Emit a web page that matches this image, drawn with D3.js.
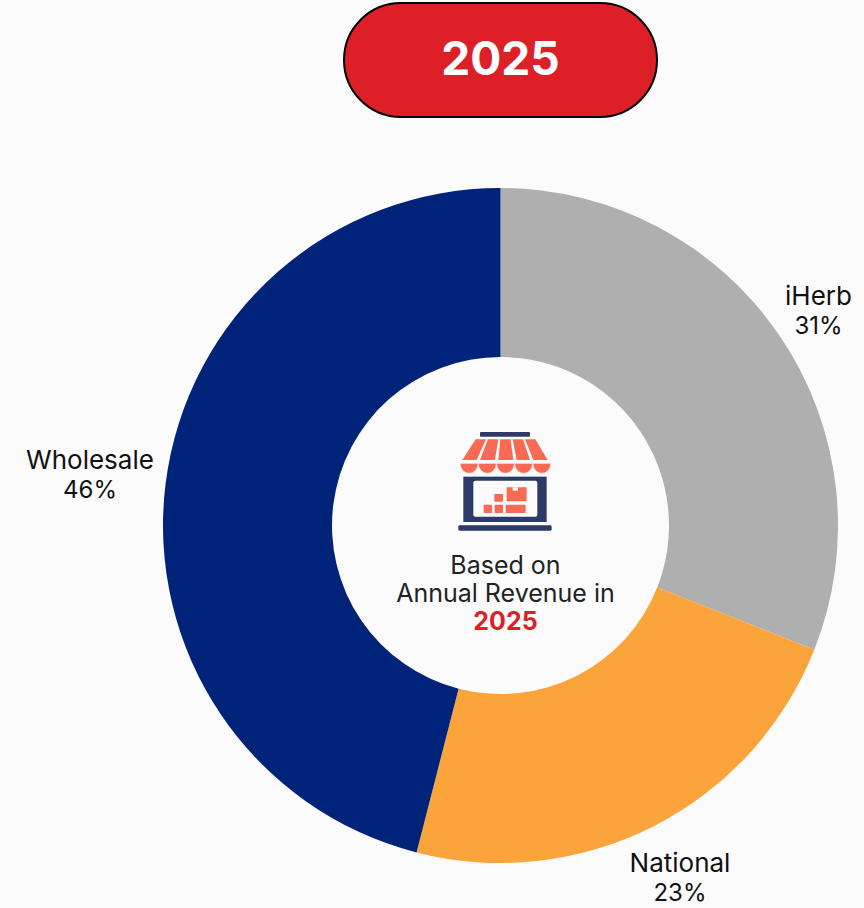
<!DOCTYPE html>
<html><head><meta charset="utf-8">
<script src="https://cdn.jsdelivr.net/npm/d3@7"></script>
<style>html,body{margin:0;padding:0;background:#fbfbfb}svg{display:block}</style>
</head><body><svg id="c" width="864" height="908"></svg>
<script>
const categories=["iHerb","National","Wholesale"];
const shares=[31,23,46];
const colors=["#afafaf","#fba43c","#00237a"];
const year="2025";
const centerLines=["Based on","Annual Revenue in"];
const svg=d3.select("#c").style("font-family","Inter, 'Open Sans', sans-serif");
const cx=500.5,cy=525.5;
const pie=d3.pie().sort(null)(shares);
const arc=d3.arc().innerRadius(168.5).outerRadius(337.5);
const g=svg.append("g").attr("transform",`translate(${cx},${cy})`);
g.selectAll("path").data(pie).join("path").attr("d",arc).attr("fill",(d,i)=>colors[i]);
svg.append("rect").attr("x",344).attr("y",3).attr("width",313).attr("height",114).attr("rx",57).attr("fill","#dd1f27").attr("stroke","#000").attr("stroke-width",2);
svg.append("text").attr("x",500.5).attr("y",75).attr("text-anchor","middle").attr("font-size",46).attr("font-weight",700).attr("fill","#fff").text(year);
const labelPos=[[818.5,304.5],[680,871.5],[90,468.5]];
categories.forEach((c,i)=>{
 const t=svg.append("text").attr("text-anchor","middle").attr("font-size",26).attr("fill","#111");
 t.append("tspan").attr("x",labelPos[i][0]).attr("y",labelPos[i][1]).text(c);
 t.append("tspan").attr("x",labelPos[i][0]).attr("y",labelPos[i][1]+29).attr("font-size",24).text(shares[i]+"%");
});
const center=svg.append("text").attr("text-anchor","middle").attr("font-size",25).attr("fill","#222");
centerLines.forEach((l,i)=>center.append("tspan").attr("x",505.5).attr("y",574+28*i).text(l));
center.append("tspan").attr("x",505.5).attr("y",630).attr("font-weight",700).attr("fill","#dd1f27").text(year);

// shop icon, in the 3x zoom units of a 130x120 box
const navy="#2b3a67",coral="#f96a55",bg="#fbfbfb";
const icon=svg.append("g").attr("transform","translate(440,420) scale(0.3333)");
const rect=(x,y,w,h,f,rx=0)=>icon.append("rect").attr("x",x).attr("y",y).attr("width",w).attr("height",h).attr("fill",f).attr("rx",rx);
rect(120,36,150,14,navy,3);
rect(55,316,280,16,navy,4);
rect(70,170,250,136,navy);
rect(100,182,192,108,bg,6);
const tops=[104,141,178,215,252,289], bots=[62,115,170,225,275,328];
d3.range(5).forEach(i=>{
 icon.append("path").attr("fill",coral)
  .attr("d",`M${tops[i]+3},58L${tops[i+1]-3},58L${bots[i+1]-5},120L${bots[i]+5},120Z`);
 const a=60+i*54.6,b=a+54.6;
 icon.append("path").attr("fill",coral).attr("stroke",bg).attr("stroke-width",2)
  .attr("d",`M${a},130L${b},130A27.3,30 0 0 1 ${a},130Z`);
});
[[200,202,60,42],[163,222,26,23],[131,254,25,25],[164,254,25,25],[197,254,60,25]].forEach(b=>rect(b[0],b[1],b[2],b[3],coral,1));
rect(218,202,16,10,bg);
</script></body></html>
